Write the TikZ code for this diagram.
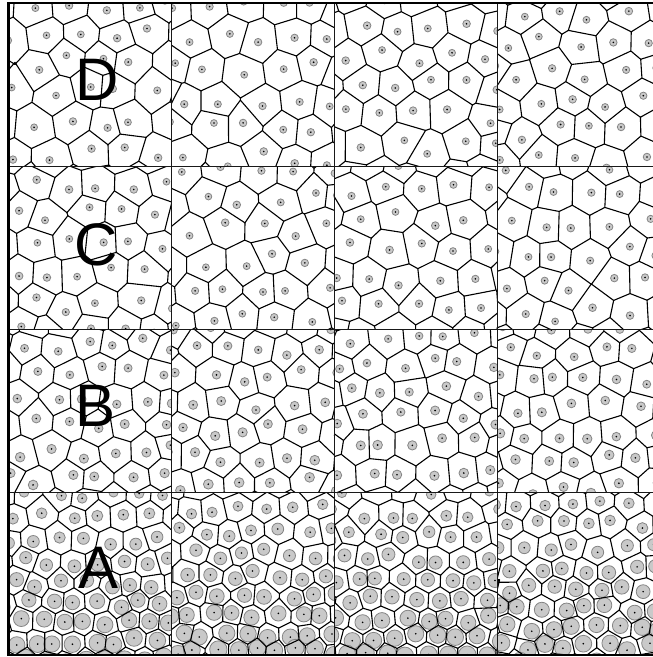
\documentclass[tikz,border=0pt]{standalone}
\usepackage{fontspec}
\setmainfont{Liberation Sans}
\tikzset{
  cell/.style={line width=1.1pt, black, line cap=round, line join=round},
  seedfill/.style={fill=black!21, draw=black!48, line width=0.8pt},
  seeddot/.style={fill=black},
  panelframe/.style={line width=1pt, black!90},
  outerframe/.style={line width=2.2pt, black},
  letter/.style={font=\fontsize{60}{60}\selectfont, inner sep=0pt, text=black},
}
\newcommand\Circum[7]{%
  \pgfmathsetmacro\vbx{((#4)-(#2))/10}%
  \pgfmathsetmacro\vby{((#5)-(#3))/10}%
  \pgfmathsetmacro\vcx{((#6)-(#2))/10}%
  \pgfmathsetmacro\vcy{((#7)-(#3))/10}%
  \pgfmathsetmacro\vdd{2*(\vbx*\vcy-\vby*\vcx)}%
  \pgfmathsetmacro\vbb{\vbx*\vbx+\vby*\vby}%
  \pgfmathsetmacro\vcc{\vcx*\vcx+\vcy*\vcy}%
  \pgfmathsetmacro\vux{(#2)+10*(\vcy*\vbb-\vby*\vcc)/\vdd}%
  \pgfmathsetmacro\vuy{(#3)+10*(\vbx*\vcc-\vcx*\vbb)/\vdd}%
  \expandafter\xdef\csname #1X\endcsname{\vux}%
  \expandafter\xdef\csname #1Y\endcsname{\vuy}%
}
% #1 id, #2 X0, #3 Y0, #4 seed, #5 a0 (top spacing), #6 a1 (bottom spacing), #7 r0, #8 r1, #9 noise
\newcommand\Panel[9]{%
  \pgfmathsetseed{#4}%
  \pgfmathsetmacro\Sz{163}%
  \pgfmathsetmacro\vb{2*\Sz/(#5+#6)}%
  \pgfmathsetmacro\kk{(#5-#6)/\vb}%
  \pgfmathsetmacro\Uw{\Sz/(2*#6)+1.4}%
  \pgfmathtruncatemacro\jhi{ceil((\vb+1.6)/0.866)}%
  \pgfmathtruncatemacro\jtm{\jhi-1}%
  \pgfmathsetmacro\ou{0.5*rand}%
  \pgfmathsetmacro\ov{0.4*rand}%
  \foreach \j in {-2,...,\jhi}{%
    \pgfmathtruncatemacro\ilo{floor(-\Uw-0.5*(\j))-2}%
    \pgfmathtruncatemacro\ihi{ceil(\Uw-0.5*(\j))+2}%
    \foreach \i in {\ilo,...,\ihi}{%
      \pgfmathsetmacro\vv{0.866*(\j)+(\ov)+#9*rand}%
      \pgfmathsetmacro\uu{(\i)+0.5*(\j)+(\ou)+#9*rand}%
      \pgfmathsetmacro\yy{#5*(\vv)-0.5*\kk*(\vv)*(\vv)}%
      \pgfmathsetmacro\xx{(#5-\kk*(\vv))*(\uu)}%
      \expandafter\xdef\csname PX#1@\i @\j\endcsname{\xx}%
      \expandafter\xdef\csname PY#1@\i @\j\endcsname{\yy}%
    }%
  }%
  \foreach \j in {-2,...,\jtm}{%
    \pgfmathtruncatemacro\ilo{floor(-\Uw-0.5*(\j))}%
    \pgfmathtruncatemacro\ihi{ceil(\Uw-0.5*(\j))}%
    \pgfmathtruncatemacro\jp{\j+1}%
    \foreach \i in {\ilo,...,\ihi}{%
      \pgfmathtruncatemacro\ip{\i+1}%
      \edef\qAx{\csname PX#1@\i @\j\endcsname}\edef\qAy{\csname PY#1@\i @\j\endcsname}%
      \pgfmathtruncatemacro\qin{abs(\qAx)<150}%
      \ifnum\qin=1
      \edef\qBx{\csname PX#1@\ip @\j\endcsname}\edef\qBy{\csname PY#1@\ip @\j\endcsname}%
      \edef\qCx{\csname PX#1@\i @\jp\endcsname}\edef\qCy{\csname PY#1@\i @\jp\endcsname}%
      \edef\qDx{\csname PX#1@\ip @\jp\endcsname}\edef\qDy{\csname PY#1@\ip @\jp\endcsname}%
      \Circum{U#1@\i @\j}{\qAx}{\qAy}{\qBx}{\qBy}{\qCx}{\qCy}%
      \Circum{D#1@\i @\j}{\qBx}{\qBy}{\qDx}{\qDy}{\qCx}{\qCy}%
      \fi
    }%
  }%
  \begin{scope}
    \clip (#2,#3) rectangle ++(163,163);
    \begin{scope}[shift={(#2+81.5,#3)}]
      \foreach \j in {-2,...,\jhi}{%
        \pgfmathtruncatemacro\ilo{floor(-\Uw-0.5*(\j))-2}%
        \pgfmathtruncatemacro\ihi{ceil(\Uw-0.5*(\j))+2}%
        \foreach \i in {\ilo,...,\ihi}{%
          \edef\qx{\csname PX#1@\i @\j\endcsname}\edef\qy{\csname PY#1@\i @\j\endcsname}%
          \pgfmathtruncatemacro\qin{(abs(\qx)<91)*((\qy)>-10)*((\qy)<173)}%
          \ifnum\qin=1
            \pgfmathsetmacro\qt{max(0,min(1,(\qy)/163))}%
            \pgfmathsetmacro\qr{#7+(#8-#7)*\qt+0.25*rand}%
            \path[seedfill] (\qx,\qy) circle[radius=\qr];
            \fill[seeddot] (\qx,\qy) circle[radius=0.9];
          \fi
        }%
      }%
      \foreach \j in {-2,...,\jtm}{%
        \pgfmathtruncatemacro\ilo{floor(-\Uw-0.5*(\j))}%
        \pgfmathtruncatemacro\ihi{ceil(\Uw-0.5*(\j))}%
        \pgfmathtruncatemacro\jm{\j-1}%
        \foreach \i in {\ilo,...,\ihi}{%
          \ifcsname U#1@\i @\j X\endcsname
          \edef\qux{\csname U#1@\i @\j X\endcsname}\edef\quy{\csname U#1@\i @\j Y\endcsname}%
          \pgfmathtruncatemacro\qin{(abs(\qux)<125)*((\quy)>-40)*((\quy)<203)}%
          \ifnum\qin=1
            \pgfmathtruncatemacro\im{\i-1}%
            \edef\qdx{\csname D#1@\i @\j X\endcsname}\edef\qdy{\csname D#1@\i @\j Y\endcsname}%
            \edef\qpath{(\qux,\quy) -- (\qdx,\qdy)}%
            \ifcsname D#1@\i @\jm X\endcsname
              \edef\qpath{\qpath\space(\qux,\quy) -- (\csname D#1@\i @\jm X\endcsname,\csname D#1@\i @\jm Y\endcsname)}%
            \fi
            \ifcsname D#1@\im @\j X\endcsname
              \edef\qpath{\qpath\space(\qux,\quy) -- (\csname D#1@\im @\j X\endcsname,\csname D#1@\im @\j Y\endcsname)}%
            \fi
            \draw[cell] \qpath;
          \fi
          \fi
        }%
      }%
    \end{scope}
  \end{scope}
  \draw[panelframe] (#2,#3) rectangle ++(163,163);
}
\begin{document}
\begin{tikzpicture}[x=1pt,y=-1pt]
\useasboundingbox (0,0) rectangle (653,657);
\fill[white] (0,0) rectangle (653,657);
% row D
\Panel{da}{8.5}{3}{11}{34.5}{34.5}{3.6}{3.6}{0.23}
\Panel{db}{171.5}{3}{12}{34.5}{34.5}{3.6}{3.6}{0.23}
\Panel{dc}{334.5}{3}{13}{34.5}{34.5}{3.6}{3.6}{0.23}
\Panel{dd}{497.5}{3}{14}{34.5}{34.5}{3.6}{3.6}{0.23}
% row C
\Panel{ca}{8.5}{166}{21}{34.5}{34.5}{3.6}{3.6}{0.23}
\Panel{cb}{171.5}{166}{22}{34.5}{34.5}{3.6}{3.6}{0.23}
\Panel{cc}{334.5}{166}{23}{34.5}{34.5}{3.6}{3.6}{0.23}
\Panel{cd}{497.5}{166}{24}{34.5}{34.5}{3.6}{3.6}{0.23}
% row B
\Panel{ba}{8.5}{329}{31}{31}{31}{3.9}{4.8}{0.23}
\Panel{bb}{171.5}{329}{32}{31}{31}{3.9}{4.8}{0.23}
\Panel{bc}{334.5}{329}{33}{31}{31}{3.9}{4.8}{0.23}
\Panel{bd}{497.5}{329}{34}{31}{31}{3.9}{4.8}{0.23}
% row A
\Panel{aa}{8.5}{492}{41}{27.5}{20}{4.8}{8.6}{0.2}
\Panel{ab}{171.5}{492}{42}{27.5}{20}{4.8}{8.6}{0.2}
\Panel{ac}{334.5}{492}{43}{27.5}{20}{4.8}{8.6}{0.2}
\Panel{ad}{497.5}{492}{44}{27.5}{20}{4.8}{8.6}{0.2}
% labels
\node[letter] (labD) at (97,80) {D};
\node[letter] (labC) at (96,245) {C};
\node[letter] (labB) at (96,406) {B};
\node[letter] (labA) at (99,568) {A};
% outer frame
\coordinate (tl) at (8.5,3);
\coordinate (tr) at (653,3);
\coordinate (bl) at (8.5,655);
\coordinate (br) at (653,655);
\draw[outerframe] (tr) -- (tl) -- (bl) -- (br);
\end{tikzpicture}
\end{document}
